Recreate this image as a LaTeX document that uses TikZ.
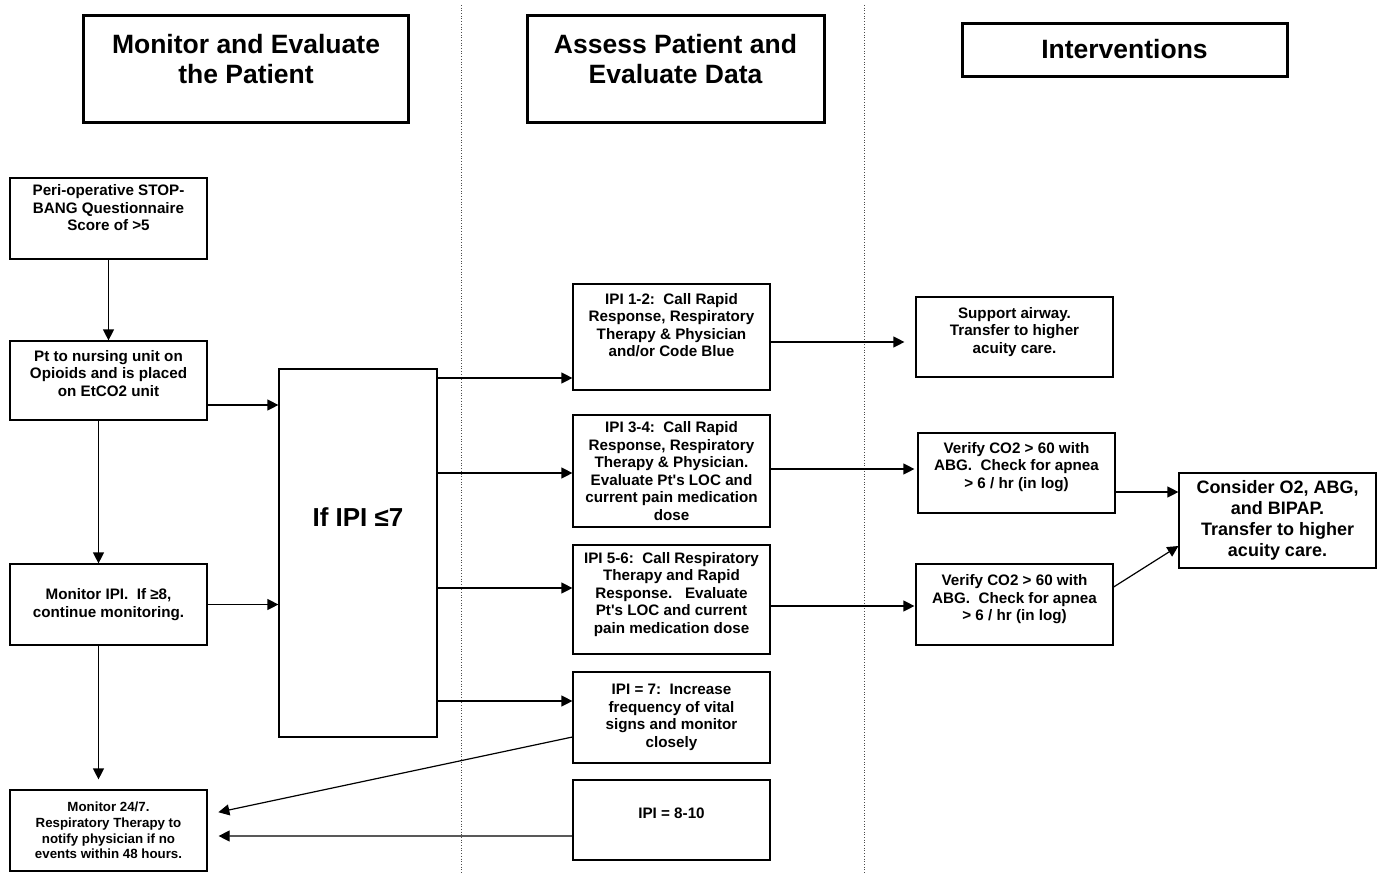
\documentclass[tikz,border=0pt]{standalone}
\usepackage{fontspec}
\setmainfont{Liberation Sans}
\usetikzlibrary{arrows.meta}

% empty strut that pushes a box's text upwards
\newcommand{\txtup}[1]{\rule[-#1bp]{0pt}{#1bp}}

\begin{document}
\begin{tikzpicture}[x=1bp, y=-1bp]

    % Styles for boxes, headers and arrows
    \tikzset{
      box/.style={draw, line width=1.2bp, align=center, inner sep=0pt,
        font=\fontsize{15.2bp}{17.5bp}\selectfont\bfseries},
      head/.style={draw, line width=3bp, align=center, inner sep=0pt,
        font=\fontsize{26.5bp}{30bp}\selectfont\bfseries},
      wh/.style 2 args={minimum width=#1bp, minimum height=#2bp},
      arr/.style={line width=1.2bp, -{Triangle[length=11bp, width=11bp]}},
      lane/.style={dotted, line width=0.7bp, black!70}
    }

    \useasboundingbox (0,0) rectangle (1380,874);

    % Column centres
    \def\xleft{108.5}
    \def\xmid{671.5}

    % --- Lane separators ---
    \draw[lane] (461,5) -- (461,874);
    \draw[lane] (864,5) -- (864,874);

    % --- Headers ---
    \node[head, wh={324}{106}] (hMon) at (246,69) {Monitor and Evaluate\\the Patient\txtup{20}};
    \node[head, wh={297}{106}] (hAss) at (675.5,69) {Assess Patient and\\Evaluate Data\txtup{20}};
    \node[head, wh={325}{53}] (hInt) at (1124.5,49.5) {Interventions};

    % --- Left column: monitoring ---
    \node[box, wh={197}{81}] (nStop) at (\xleft,218.5)
      {Peri-operative STOP-\\BANG Questionnaire\\Score of >5\txtup{22}};
    \node[box, wh={197}{79}] (nUnit) at (\xleft,380.5)
      {Pt to nursing unit on\\Opioids and is placed\\on EtCO2 unit\txtup{15}};
    \node[box, wh={197}{81}] (nIpi) at (\xleft,604.5)
      {Monitor IPI.\ \ If ≥8,\\continue monitoring.};
    \node[box, wh={197}{81}, font=\fontsize{13.3bp}{15.7bp}\selectfont\bfseries] (nWatch) at (\xleft,830.5)
      {Monitor 24/7.\\Respiratory Therapy to\\notify physician if no\\events within 48 hours.};

    % Decision box
    \node[box, wh={158}{368}, font=\fontsize{26bp}{30bp}\selectfont\bfseries] (big) at (358,553)
      {If IPI ≤7\txtup{72}};

    % --- Middle column: IPI ranges ---
    \node[box, wh={197}{106}] (p12) at (\xmid,337)
      {IPI 1-2:\ \ Call Rapid\\Response, Respiratory\\Therapy \& Physician\\and/or Code Blue\txtup{24}};
    \node[box, wh={197}{112}] (p34) at (\xmid,471)
      {IPI 3-4:\ \ Call Rapid\\Response, Respiratory\\Therapy \& Physician.\\Evaluate Pt\textquotesingle s LOC and\\current pain medication\\dose};
    \node[box, wh={197}{109}] (p56) at (\xmid,599.5)
      {IPI 5-6:\ \ Call Respiratory\\Therapy and Rapid\\Response.\ \ \ Evaluate\\Pt\textquotesingle s LOC and current\\pain medication dose\txtup{14}};
    \node[box, wh={197}{91}] (p7) at (\xmid,717.5)
      {IPI = 7:\ \ Increase\\frequency of vital\\signs and monitor\\closely};
    \node[box, wh={197}{80}] (p810) at (\xmid,820) {IPI = 8-10\txtup{14}};

    % --- Right column: interventions ---
    \node[box, wh={197}{80}] (nAir) at (1014.5,337)
      {Support airway.\\Transfer to higher\\acuity care.\txtup{14}};
    \node[box, wh={197}{80}] (v34) at (1016.5,473)
      {Verify CO2 > 60 with\\ABG.\ \ Check for apnea\\> 6 / hr (in log)\txtup{16}};
    \node[box, wh={197}{81}] (v56) at (1014.5,604.5)
      {Verify CO2 > 60 with\\ABG.\ \ Check for apnea\\> 6 / hr (in log)\txtup{14}};
    \node[box, wh={197}{95}, font=\fontsize{18bp}{21bp}\selectfont\bfseries] (nO2) at (1277.5,520.5)
      {Consider O2, ABG,\\and BIPAP.\\Transfer to higher\\acuity care.};

    % Entry points on the IPI boxes
    \coordinate (e12) at ([yshift=-41bp]p12.west);
    \coordinate (e34) at ([yshift=-2bp]p34.west);
    \coordinate (e56) at ([yshift=11.5bp]p56.west);
    \coordinate (e7) at ([yshift=16.5bp]p7.west);

    % --- Arrows ---
    \draw[arr] (nStop) -- (nUnit);
    \draw[arr] ([xshift=-10bp]nUnit.south) -- ([xshift=-10bp]nIpi.north);
    \draw[arr, shorten >=10bp] ([xshift=-10bp]nIpi.south) -- ([xshift=-10bp]nWatch.north);
    \draw[arr] ([yshift=-24.5bp]nUnit.east) -- ([yshift=-24.5bp]nUnit.east -| big.west);
    \draw[arr] (nIpi.east) -- (nIpi.east -| big.west);

    \draw[arr] (e12 -| big.east) -- (e12);
    \draw[arr] (e34 -| big.east) -- (e34);
    \draw[arr] (e56 -| big.east) -- (e56);
    \draw[arr] (e7 -| big.east) -- (e7);

    \draw[arr, shorten >=11bp] ([yshift=-5bp]p12.east) -- ([yshift=-5bp]p12.east -| nAir.west);
    \draw[arr, shorten >=3bp] ([yshift=2bp]p34.east) -- ([yshift=2bp]p34.east -| v34.west);
    \draw[arr, shorten >=1bp] ([yshift=-6.5bp]p56.east) -- ([yshift=-6.5bp]p56.east -| v56.west);
    \draw[arr] ([yshift=-19bp]v34.east) -- ([yshift=-19bp]v34.east -| nO2.west);
    \draw[arr] ([yshift=17.5bp]v56.east) -- ([yshift=-25.5bp]nO2.west);

    \draw[arr, shorten >=11bp] ([yshift=-19.5bp]p7.west) -- ([yshift=16bp]nWatch.east);
    \draw[arr, shorten >=11bp] ([yshift=-16bp]p810.west) -- ([yshift=-5.5bp]nWatch.east);
\end{tikzpicture}
\end{document}
